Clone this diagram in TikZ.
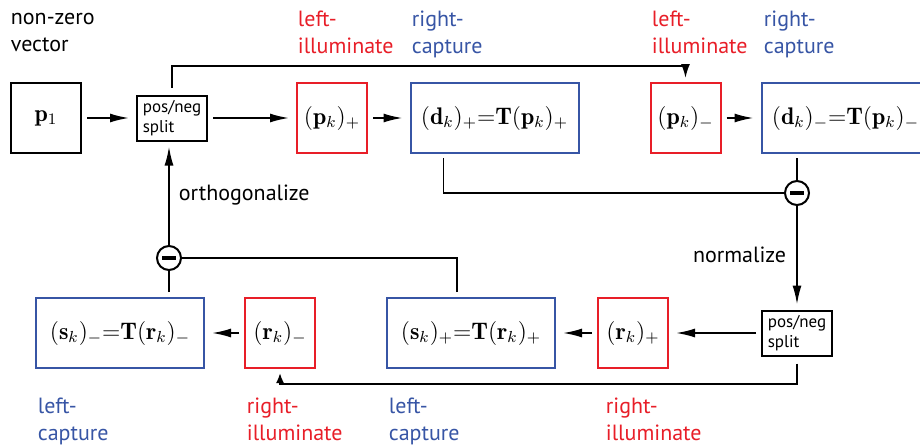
\documentclass[tikz,border=0pt]{standalone}
\usepackage{amsmath}
\usepackage{fontspec}
\setsansfont{PT Sans}
\usetikzlibrary{arrows.meta}
\definecolor{illred}{RGB}{232,30,40}
\definecolor{capblue}{RGB}{55,85,165}
\begin{document}
\begin{tikzpicture}[x=0.5pt, y=-0.5pt, >={Latex[length=9.5pt,width=4.5pt]},
      line width=0.9pt,
      box/.style={draw, line width=1pt, minimum height=35pt, inner sep=2pt, font=\large},
      plainbox/.style={box, minimum width=35pt},
      illbox/.style={box, draw=illred, minimum width=35pt},
      capbox/.style={box, draw=capblue, minimum width=84pt},
      splitbox/.style={draw, line width=1pt, minimum width=35pt, minimum height=22.5pt,
        align=left, inner sep=2pt, font=\sffamily\fontsize{8.5pt}{10pt}\selectfont},
      minus/.style={draw, circle, line width=1pt, minimum size=12pt, inner sep=0pt},
      lbl/.style={anchor=north west, inner sep=0pt, align=left,
        font=\sffamily\fontsize{11pt}{13.5pt}\selectfont},
      gap/.style={shorten <=2.5pt, shorten >=3.5pt}]
    \useasboundingbox (0,0) rectangle (920,446);
    \clip (0,0) rectangle (920,446);
    % top row
    \node[plainbox] (p1) at (46,118) {$\mathbf{p}_1$};
    \node[splitbox] (split) at (172,118) {pos/neg\\split};
    \node[illbox] (pplus) at (332,118) {$(\mathbf{p}_k)_+$};
    \node[capbox] (dplus) at (494.5,118) {$(\mathbf{d}_k)_+{=}\mathbf{T}(\mathbf{p}_k)_+$};
    \node[illbox] (pminus) at (685.5,118) {$(\mathbf{p}_k)_-$};
    \node[capbox] (dminus) at (845.5,118) {$(\mathbf{d}_k)_-{=}\mathbf{T}(\mathbf{p}_k)_-$};
    \node[minus] (mtop) at (797,193) {};
    % bottom row
    \node[splitbox] (splitlow) at (797,333) {pos/neg\\split};
    \node[illbox] (rplus) at (633,333) {$(\mathbf{r}_k)_+$};
    \node[capbox] (splus) at (471,333) {$(\mathbf{s}_k)_+{=}\mathbf{T}(\mathbf{r}_k)_+$};
    \node[illbox] (rminus) at (280,333) {$(\mathbf{r}_k)_-$};
    \node[capbox] (sminus) at (120,333) {$(\mathbf{s}_k)_-{=}\mathbf{T}(\mathbf{r}_k)_-$};
    \node[minus] (mbot) at (169,258) {};
    \coordinate (toprail) at (0,66);
    \coordinate (botrail) at (0,384);
    % labels
    \node[lbl] (nz) at (10,12) {non-zero\\vector};
    \node[lbl, text=illred] (li1) at (297,10) {left-\\illuminate};
    \node[lbl, text=capblue] (rc1) at (411,10) {right-\\capture};
    \node[lbl, text=illred] (li2) at (651,10) {left-\\illuminate};
    \node[lbl, text=capblue] (rc2) at (763,10) {right-\\capture};
    \node[lbl, text=capblue] (lc1) at (37,397) {left-\\capture};
    \node[lbl, text=illred] (ri1) at (246,397) {right-\\illuminate};
    \node[lbl, text=capblue] (lc2) at (388,397) {left-\\capture};
    \node[lbl, text=illred] (ri2) at (605,397) {right-\\illuminate};
    \node[lbl, anchor=east] (norm) at (787,255) {normalize};
    \node[lbl, anchor=west] (orth) at (178,195) {orthogonalize};
    % minus bars
    \foreach \m in {mtop, mbot}
      \draw[line width=1.8pt] ([xshift=-3.5pt]\m.center) -- ([xshift=3.5pt]\m.center);
    % connectors
    \draw[->, gap] (p1) -- (split);
    \draw[->, gap] (split) -- (pplus);
    \draw[->, gap] (pplus) -- (dplus);
    \draw[->, gap] (pminus) -- (dminus);
    \draw[->, >={Latex[length=7pt,width=4.5pt]}, shorten <=3.5pt, shorten >=2pt] (split.north) -- (split.north |- toprail) -| (pminus.north);
    \draw[shorten <=2pt] ([xshift=17pt]dplus.south west) |- (mtop);
    \draw[shorten <=2pt] (mtop |- dminus.south) -- (mtop);
    \draw[->, shorten >=2.5pt] (mtop) -- (splitlow);
    \draw[->, gap] (splitlow) -- (rplus);
    \draw[->, gap] (rplus) -- (splus);
    \draw[->, gap] (rminus) -- (sminus);
    \draw[shorten <=2.5pt] ([xshift=35.5pt]splus.north west) |- (mbot);
    \draw[shorten <=2.5pt] (mbot |- sminus.north) -- (mbot);
    \draw[->, shorten >=2.5pt] (mbot) -- (mbot |- split.south);
    \draw[->, >={Latex[length=5pt,width=4pt]}, shorten <=3.5pt, shorten >=2pt] (splitlow.south) -- (splitlow.south |- botrail) -| (rminus.south);
\end{tikzpicture}
\end{document}
